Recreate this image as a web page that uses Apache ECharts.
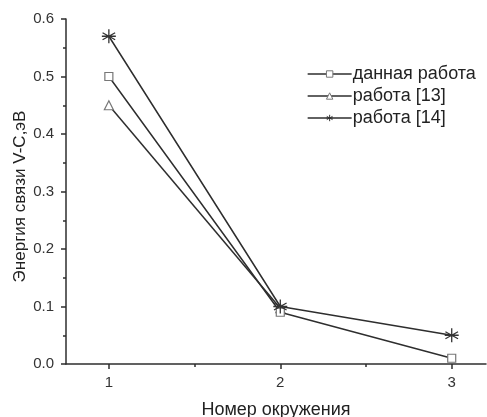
<!DOCTYPE html>
<html><head><meta charset="utf-8">
<script src="https://cdn.jsdelivr.net/npm/echarts@6/dist/echarts.min.js"></script>
<style>html,body{margin:0;padding:0;background:#fff}#c{width:487px;height:417px}</style>
</head><body><div id="c"></div>
<script>
const xValues = [1, 2, 3];
const seriesNames = ['данная работа', 'работа [13]', 'работа [14]'];
const dataOurs = [0.50, 0.09, 0.01];
const data13 = [0.45, 0.097, null];
const data14 = [0.57, 0.10, 0.05];
const yTicks = [0, 0.1, 0.2, 0.3, 0.4, 0.5, 0.6];

const starPath = 'path://M0,-10L0,10M-9,-5L9,5M-9,5L9,-5M-10,0L10,0';
const FONT = 'Liberation Sans, Arial, sans-serif';
const LINE = '#2e2e2e';

function pts(arr){ return xValues.map((x,i)=>[x, arr[i]]).filter(p=>p[1]!=null); }

const chart = echarts.init(document.getElementById('c'));
chart.setOption({
  animation: false,
  textStyle: {fontFamily: FONT},
  grid: {left: 66, right: 1, top: 19, bottom: 53, containLabel: false, outerBoundsMode: 'none'},
  legend: {
    orient: 'vertical', left: 302, top: 60, itemGap: 4, itemWidth: 44, itemHeight: 8,
    textStyle: {fontSize: 18, color: '#222', fontFamily: FONT, padding: [0,0,0,-4]},
    lineStyle: {width: 1.3},
    itemStyle: {borderWidth: 1},
    data: seriesNames
  },
  xAxis: [{
    type: 'value', min: 0.75, max: 3.2,
    axisLine: {lineStyle: {color: LINE, width: 1.5}},
    axisTick: {show: true, customValues: xValues, length: 5, inside: false, lineStyle: {color: LINE, width: 1.5}},
    axisLabel: {customValues: xValues, margin: 11, fontSize: 15, color: '#333', fontFamily: FONT},
    splitLine: {show: false},
    name: 'Номер окружения', nameLocation: 'middle', nameGap: 37, nameMoveOverlap: false,
    nameTextStyle: {fontSize: 18, color: '#222', fontFamily: FONT}
  }, {
    type: 'value', min: 0.75, max: 3.2, position: 'bottom',
    axisLine: {show: false},
    axisTick: {show: true, customValues: [1.5, 2.5], length: 3, lineStyle: {color: LINE, width: 1.5}},
    axisLabel: {show: false}, splitLine: {show: false}
  }],
  yAxis: {
    type: 'value', min: 0, max: 0.6, interval: 0.1,
    axisLine: {show: true, lineStyle: {color: LINE, width: 1.5}},
    axisTick: {show: true, length: 5, lineStyle: {color: LINE, width: 1.5}},
    minorTick: {show: true, splitNumber: 2, length: 3, lineStyle: {color: LINE, width: 1.5}},
    axisLabel: {margin: 12, fontSize: 15, color: '#333', fontFamily: FONT,
      formatter: v => v.toFixed(1)},
    splitLine: {show: false},
    name: 'Энергия связи V-C,эВ', nameLocation: 'middle', nameGap: 37, nameRotate: 90, nameMoveOverlap: false,
    nameTextStyle: {fontSize: 17, color: '#222', fontFamily: FONT, padding: [0, 10, 0, 0]}
  },
  series: [
    {name: seriesNames[0], type: 'line', data: pts(dataOurs), symbol: 'rect', symbolSize: 8,
     lineStyle: {color: LINE, width: 1.5},
     itemStyle: {color: '#fff', borderColor: '#777', borderWidth: 1.2}, z: 3},
    {name: seriesNames[1], type: 'line', data: pts(data13), symbol: 'triangle', symbolSize: 9,
     lineStyle: {color: LINE, width: 1.5},
     itemStyle: {color: '#fff', borderColor: '#777', borderWidth: 1.2}, z: 2},
    {name: seriesNames[2], type: 'line', data: pts(data14), symbol: starPath, symbolSize: 14,
     lineStyle: {color: LINE, width: 1.5},
     itemStyle: {color: '#fff', borderColor: '#333', borderWidth: 1.3}, z: 4}
  ]
});
</script>
</body></html>
